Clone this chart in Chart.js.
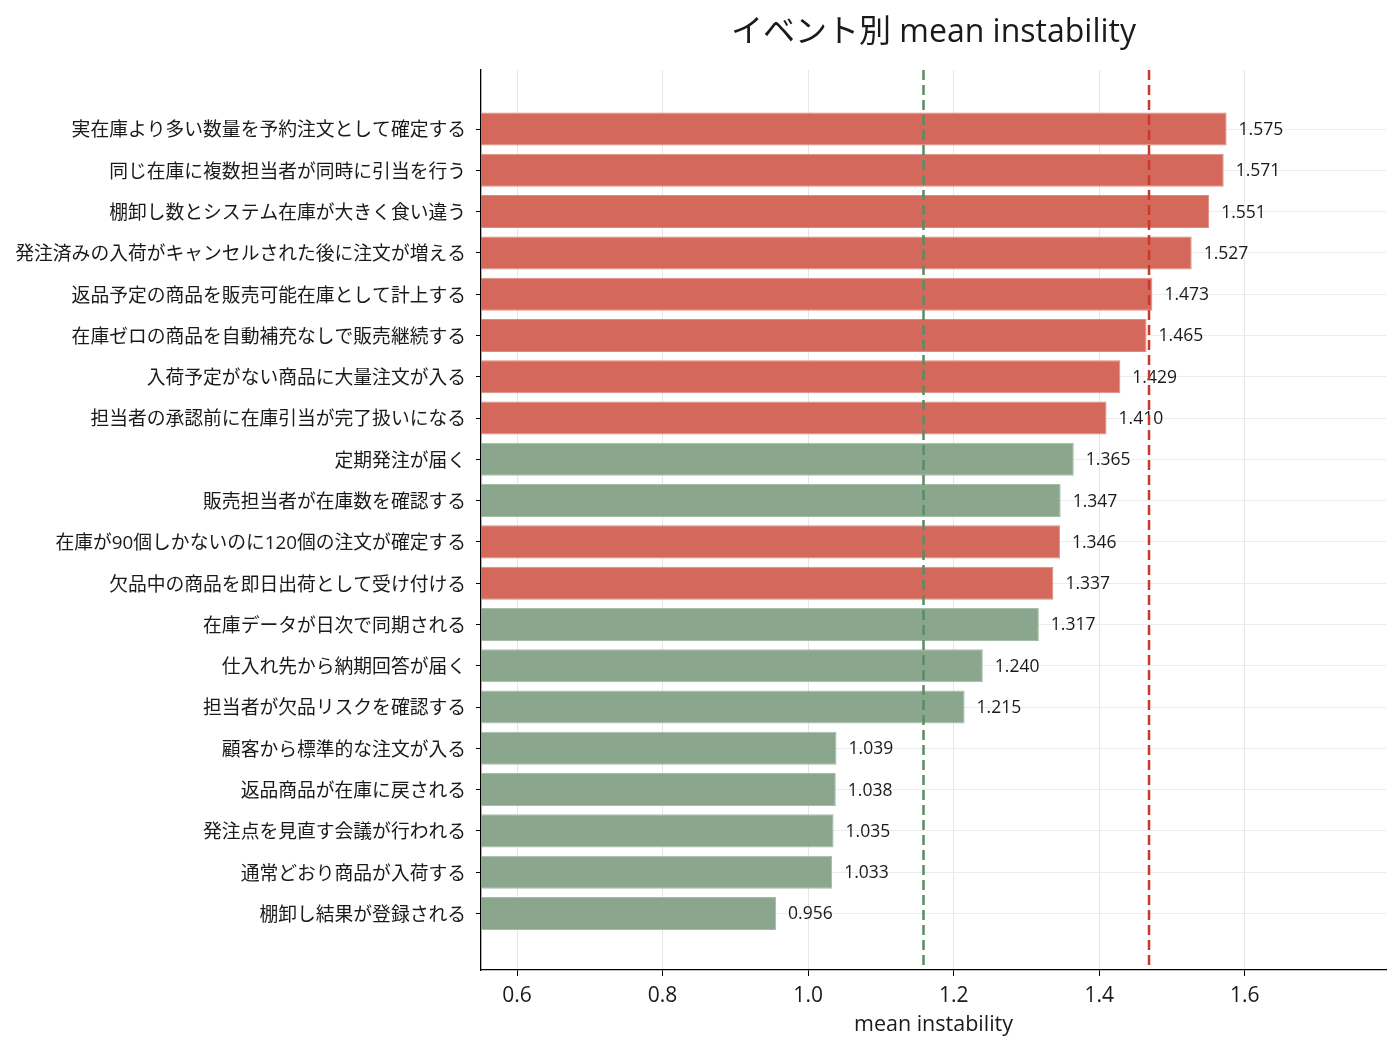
<!DOCTYPE html>
<html>
<head>
<meta charset="utf-8">
<script src="https://cdn.jsdelivr.net/npm/chart.js@4.4.1/dist/chart.umd.min.js"></script>
<style>
  html, body { margin: 0; padding: 0; background: #ffffff; }
  #wrap { width: 1400px; height: 1051px; }
</style>
</head>
<body>
<div id="wrap"><canvas id="c" width="1400" height="1051"></canvas></div>
<script>
const categories = [
  "実在庫より多い数量を予約注文として確定する",
  "同じ在庫に複数担当者が同時に引当を行う",
  "棚卸し数とシステム在庫が大きく食い違う",
  "発注済みの入荷がキャンセルされた後に注文が増える",
  "返品予定の商品を販売可能在庫として計上する",
  "在庫ゼロの商品を自動補充なしで販売継続する",
  "入荷予定がない商品に大量注文が入る",
  "担当者の承認前に在庫引当が完了扱いになる",
  "定期発注が届く",
  "販売担当者が在庫数を確認する",
  "在庫が90個しかないのに120個の注文が確定する",
  "欠品中の商品を即日出荷として受け付ける",
  "在庫データが日次で同期される",
  "仕入れ先から納期回答が届く",
  "担当者が欠品リスクを確認する",
  "顧客から標準的な注文が入る",
  "返品商品が在庫に戻される",
  "発注点を見直す会議が行われる",
  "通常どおり商品が入荷する",
  "棚卸し結果が登録される"
];
const values = [1.575, 1.571, 1.551, 1.527, 1.473, 1.465, 1.429, 1.410, 1.365, 1.347,
                1.346, 1.337, 1.317, 1.240, 1.215, 1.039, 1.038, 1.035, 1.033, 0.956];
const groups = ["risk","risk","risk","risk","risk","risk","risk","risk","normal","normal",
                "risk","risk","normal","normal","normal","normal","normal","normal","normal","normal"];
const xTicks = [0.6, 0.8, 1.0, 1.2, 1.4, 1.6];
const titleText = "イベント別 mean instability";
const xTitle = "mean instability";

const FILL = { risk: "#d4685b", normal: "#8aa68d" };
const EDGE = { risk: "#de8a7f", normal: "#a6bba8" };
const MEANLINE = { risk: "#c9392b", normal: "#5b8c63" };

function mean(arr) { return arr.reduce((a, b) => a + b, 0) / arr.length; }
const groupMeans = {
  normal: mean(values.filter((v, i) => groups[i] === "normal")),
  risk: mean(values.filter((v, i) => groups[i] === "risk"))
};

const FONT = "'Open Sans', 'Noto Sans CJK JP', sans-serif";
Chart.defaults.font.family = FONT;
Chart.defaults.color = "#1a1a1a";

const titlePlugin = {
  id: "mainTitle",
  afterDraw(chart) {
    const { ctx, chartArea } = chart;
    ctx.save();
    ctx.font = "32px " + FONT;
    ctx.fillStyle = "#1a1a1a";
    ctx.textAlign = "center";
    ctx.textBaseline = "middle";
    ctx.fillText(titleText, (chartArea.left + chartArea.right) / 2, 33);
    ctx.restore();
  }
};

const valueLabels = {
  id: "valueLabels",
  afterDatasetsDraw(chart) {
    const { ctx } = chart;
    const meta = chart.getDatasetMeta(0);
    ctx.save();
    ctx.font = "17.5px " + FONT;
    ctx.fillStyle = "#1a1a1a";
    ctx.textAlign = "left";
    ctx.textBaseline = "middle";
    meta.data.forEach((bar, i) => {
      ctx.fillText(values[i].toFixed(3), bar.x + 12, bar.y + 1);
    });
    ctx.restore();
  }
};

const meanLines = {
  id: "meanLines",
  afterDraw(chart) {
    const { ctx, chartArea, scales } = chart;
    ctx.save();
    ctx.lineWidth = 2.5;
    ctx.setLineDash([10, 5]);
    ["normal", "risk"].forEach(g => {
      const px = scales.x.getPixelForValue(groupMeans[g]);
      ctx.strokeStyle = MEANLINE[g];
      ctx.beginPath();
      ctx.moveTo(px, chartArea.top);
      ctx.lineTo(px, chartArea.bottom);
      ctx.stroke();
    });
    ctx.restore();
  }
};

new Chart(document.getElementById("c"), {
  type: "bar",
  data: {
    datasets: [{
      data: values.map((v, i) => ({ x: v, y: i })),
      backgroundColor: groups.map(g => FILL[g]),
      borderColor: groups.map(g => EDGE[g]),
      borderWidth: 1,
      categoryPercentage: 1.0,
      barPercentage: 0.8
    }]
  },
  options: {
    indexAxis: "y",
    responsive: false,
    animation: false,
    devicePixelRatio: 1,
    layout: { padding: { top: 70, right: 14, left: 0, bottom: 0 } },
    plugins: { legend: { display: false }, tooltip: { enabled: false }, title: { display: false } },
    scales: {
      x: {
        type: "linear",
        position: "bottom",
        min: 0.5505,
        max: 1.794,
        afterBuildTicks: (scale) => { scale.ticks = xTicks.map(v => ({ value: v })); },
        afterFit: (scale) => { scale.height = 81; },
        ticks: {
          font: { size: 21 },
          color: "#1a1a1a",
          padding: 7,
          maxRotation: 0,
          autoSkip: false,
          callback: (v) => Number(v).toFixed(1)
        },
        grid: { color: "#e6e6e6", lineWidth: 1, tickColor: "#000000", tickLength: 6, drawTicks: true },
        border: { display: true, color: "#000000", width: 1.3 },
        title: { display: true, text: xTitle, font: { size: 21.5 }, color: "#1a1a1a", padding: { top: 0, bottom: 13 } }
      },
      y: {
        type: "linear",
        position: "left",
        reverse: true,
        offset: false,
        min: -1.43,
        max: 20.37,
        afterBuildTicks: (scale) => { scale.ticks = categories.map((c, i) => ({ value: i })); },
        afterFit: (scale) => { scale.width = 481; },
        ticks: {
          font: { size: 18.8 },
          color: "#1a1a1a",
          padding: 10,
          labelOffset: 2,
          autoSkip: false,
          callback: (v) => categories[v]
        },
        grid: { color: "#ececec", lineWidth: 1, offset: false, tickColor: "#000000", tickLength: 5, drawTicks: true },
        border: { display: true, color: "#000000", width: 1.3 }
      }
    }
  },
  plugins: [titlePlugin, valueLabels, meanLines]
});
</script>
</body>
</html>
